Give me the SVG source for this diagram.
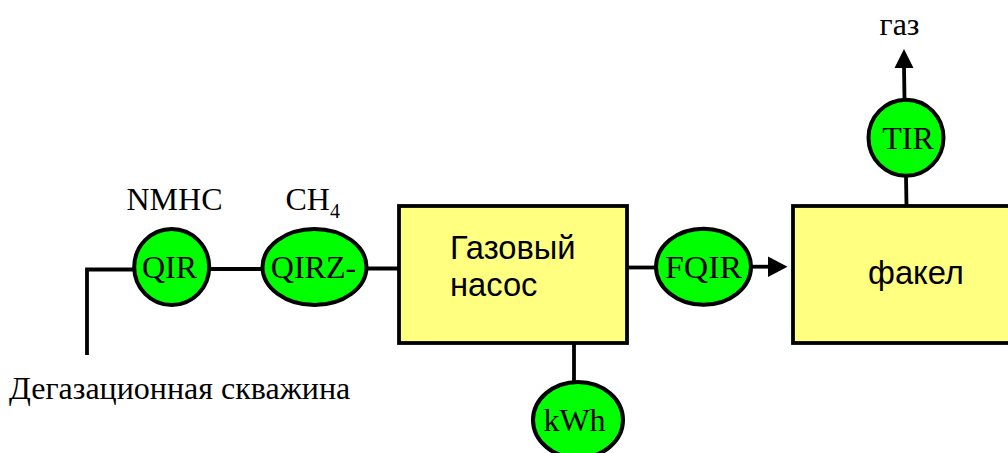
<svg xmlns="http://www.w3.org/2000/svg" width="1008" height="453" viewBox="0 0 1008 453">
<style>
.c{stroke:#000;stroke-width:3.8;fill:none}
.e{fill:#00ff00;stroke:#000;stroke-width:4}
.b{fill:#ffff80;stroke:#000;stroke-width:3.8}
.s{font-family:"Liberation Serif",serif;font-size:32px;fill:#000}
.m{text-anchor:middle}
.a{font-family:"Liberation Sans",sans-serif;font-size:32.7px;fill:#000}
</style>
<rect width="1008" height="453" fill="#fff"/>
<g id="connectors">
<path class="c" d="M87 355V269.500H134"/>
<path class="c" d="M210 269H263"/>
<path class="c" d="M367 268.500H400"/>
<path class="c" d="M627 267.500H656"/>
<path class="c" d="M574 342V382"/>
<path class="c" d="M906 176L906.500 206"/>
<path class="c" d="M904.500 100L904 66"/>
<path class="c" d="M751 266.700H770"/>
<polygon points="768,256.500 787.500,266.700 768,277" fill="#000"/>
<polygon points="894.500,68 904,49 913.500,68" fill="#000"/>
</g>
<g id="pump"><rect class="b" x="399" y="206" width="228" height="137"/><text class="a" x="450" y="259">Газовый</text><text class="a" x="450" y="296">насос</text></g>
<g id="flare"><rect class="b" x="793" y="206" width="230" height="137"/><text class="a" x="868" y="284">факел</text></g>
<g id="qir"><ellipse class="e" cx="171.700" cy="267" rx="37.500" ry="38"/><text class="s m" x="169.500" y="277.500">QIR</text></g>
<g id="qirz"><ellipse class="e" cx="314.500" cy="267" rx="52" ry="38"/><text class="s m" x="313.500" y="277.500">QIRZ-</text></g>
<g id="fqir"><ellipse class="e" cx="703.500" cy="266.700" rx="47.500" ry="38"/><text class="s m" x="703.500" y="277.500" textLength="77" lengthAdjust="spacingAndGlyphs">FQIR</text></g>
<g id="kwh"><ellipse class="e" cx="578" cy="420" rx="45" ry="38"/><text class="s m" x="574.500" y="431">kWh</text></g>
<g id="tir"><ellipse class="e" cx="906" cy="137.700" rx="37.500" ry="38"/><text class="s m" x="908" y="149">TIR</text></g>
<g id="labels">
<text class="s m" x="174.500" y="210">NMHC</text>
<text class="s" x="285.500" y="210">CH<tspan font-size="20" dy="8">4</tspan></text>
<text class="s" x="9" y="399">Дегазационная скважина</text>
<text class="s" x="879.500" y="35">газ</text>
</g>
</svg>
